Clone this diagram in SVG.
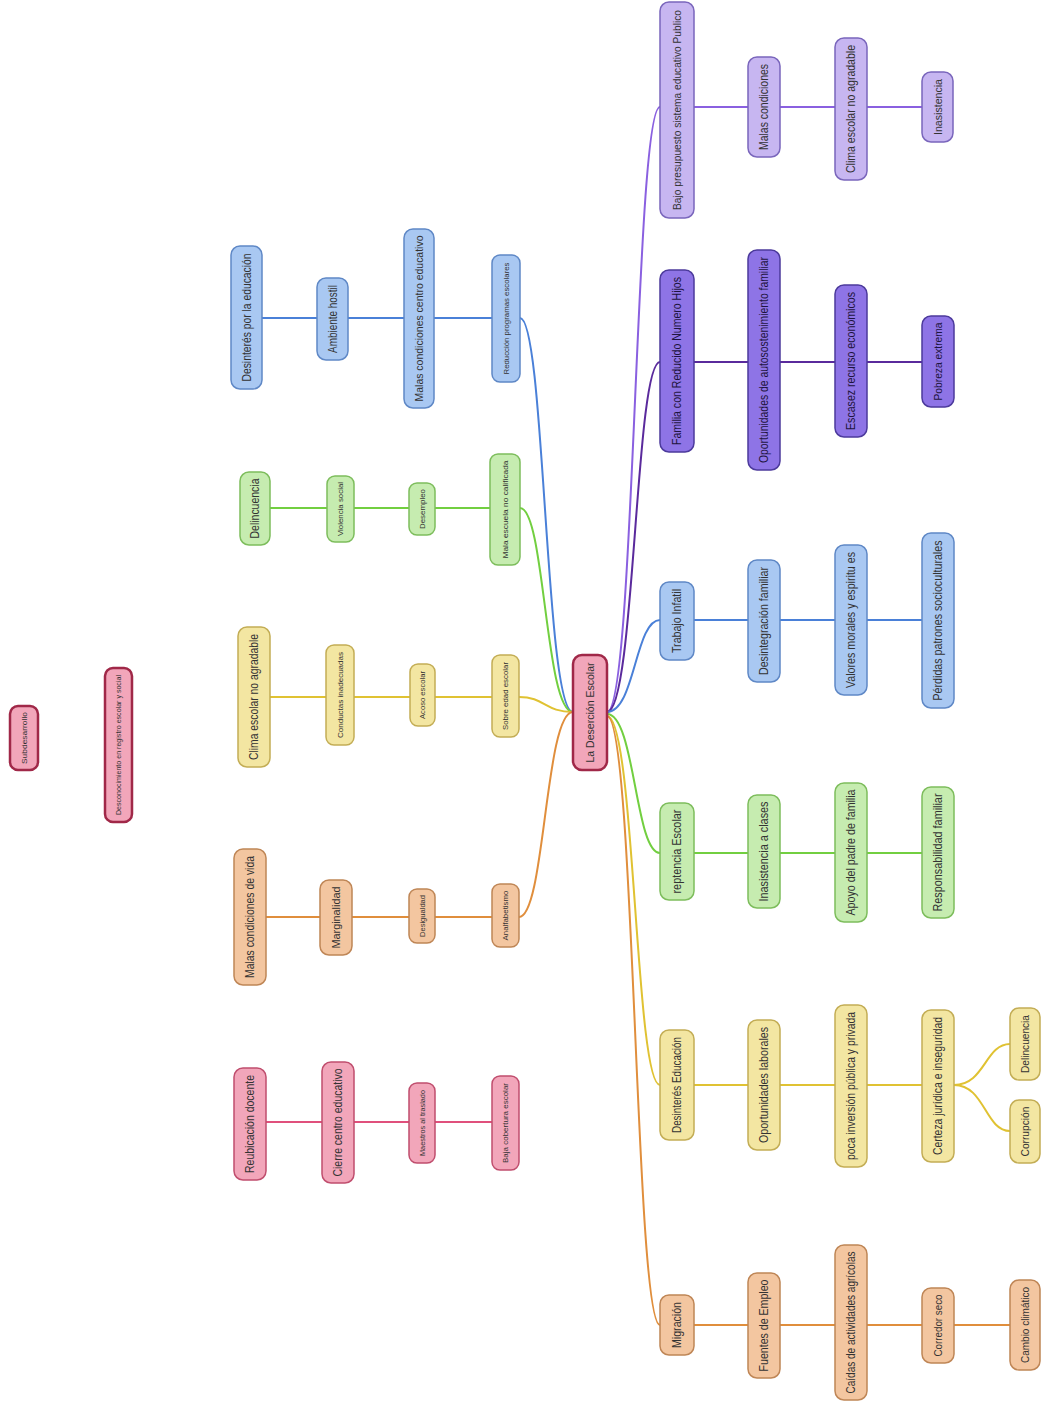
<svg xmlns="http://www.w3.org/2000/svg" width="1045" height="1403" viewBox="0 0 1045 1403">
<style>
text{font-family:"Liberation Sans",Arial,sans-serif;fill:#333;text-anchor:middle;dominant-baseline:central}
.s{font-size:7px}.m{font-size:11px}.l{font-size:12px}
rect{stroke-width:1.5}
.b rect{fill:#a9c8f2;stroke:#5f88c6}
.g rect{fill:#c6ecb0;stroke:#7dbd5c}
.y rect{fill:#f3e6a2;stroke:#c3ad55}
.o rect{fill:#f3c6a0;stroke:#bf8656}
.p rect{fill:#f2a6ba;stroke:#c04e6e}
.pk rect{fill:#f2a6ba;stroke:#a02848;stroke-width:2.5}
.pl rect{fill:#c7b6f1;stroke:#7a66bc}
.pd rect{fill:#8e74e6;stroke:#4c3a9c}
.pd text{fill:#1e1440}
#connectors path{fill:none;stroke-width:2}
.cb{stroke:#4a80d8}.cg{stroke:#72cf40}.cy{stroke:#e0c232}.co{stroke:#e08e3c}.cp{stroke:#e0507c}.cpl{stroke:#8a60e0}.cpd{stroke:#5a2a9c}
</style>
<rect width="1045" height="1403" fill="#ffffff"/>
<g id="connectors">
<path class="cb" d="M262,318H492"/>
<path class="cg" d="M270,508H490"/>
<path class="cy" d="M270,697H492"/>
<path class="co" d="M266,917H492"/>
<path class="cp" d="M266,1122H492"/>
<path class="cb" d="M573,712C545,712 545,318 520,318"/>
<path class="cg" d="M573,712C545,712 545,508 520,508"/>
<path class="cy" d="M573,712C545,712 545,697 519,697"/>
<path class="co" d="M573,712C545,712 545,917 519,917"/>
<path class="cpl" d="M607,712C635,712 635,107 660,107"/>
<path class="cpd" d="M607,712C635,712 635,362 660,362"/>
<path class="cb" d="M607,712C635,712 635,620 660,620"/>
<path class="cg" d="M607,714C635,714 635,853 660,853"/>
<path class="cy" d="M607,716C635,716 635,1085 660,1085"/>
<path class="co" d="M607,716C635,716 635,1325 660,1325"/>
<path class="cpl" d="M694,107H922"/>
<path class="cpd" d="M694,362H922"/>
<path class="cb" d="M694,620H922"/>
<path class="cg" d="M694,853H922"/>
<path class="cy" d="M694,1085H922"/>
<path class="co" d="M694,1325H1010"/>
<path class="cy" d="M954,1085C985,1085 985,1044 1010,1044"/>
<path class="cy" d="M954,1085C985,1085 985,1131 1010,1131"/>
</g>
<g id="center" class="pk"><rect x="573" y="655" width="34" height="115" rx="9"/><text class="m" transform="translate(590,712.5) rotate(-90)" textLength="100" lengthAdjust="spacingAndGlyphs">La Deserción Escolar</text></g>
<g id="subdesarrollo" class="pk"><rect x="10" y="706" width="28" height="64" rx="8"/><text class="s" transform="translate(24,738) rotate(-90)" textLength="52" lengthAdjust="spacingAndGlyphs">Subdesarrollo</text></g>
<g id="desconocimiento" class="pk"><rect x="105" y="668" width="27" height="154" rx="8"/><text class="s" transform="translate(118.5,745) rotate(-90)" textLength="140" lengthAdjust="spacingAndGlyphs">Desconocimiento en registro escolar y social</text></g>
<g id="l1a" class="b"><rect x="231" y="246" width="31" height="143" rx="9"/><text class="l" transform="translate(246.5,317.5) rotate(-90)" textLength="128" lengthAdjust="spacingAndGlyphs">Desinterés por la educación</text></g>
<g id="l1b" class="b"><rect x="317" y="278" width="31" height="82" rx="9"/><text class="l" transform="translate(332.5,319) rotate(-90)" textLength="68" lengthAdjust="spacingAndGlyphs">Ambiente hostil</text></g>
<g id="l1c" class="b"><rect x="404" y="229" width="30" height="179" rx="9"/><text class="m" transform="translate(419,318.5) rotate(-90)" textLength="166" lengthAdjust="spacingAndGlyphs">Malas condiciones centro educativo</text></g>
<g id="l1d" class="b"><rect x="492" y="255" width="28" height="127" rx="8"/><text class="s" transform="translate(506,318.5) rotate(-90)" textLength="112" lengthAdjust="spacingAndGlyphs">Reducción programas escolares</text></g>
<g id="l2a" class="g"><rect x="240" y="472" width="30" height="73" rx="9"/><text class="l" transform="translate(255,508.5) rotate(-90)" textLength="60" lengthAdjust="spacingAndGlyphs">Delincuencia</text></g>
<g id="l2b" class="g"><rect x="327" y="476" width="27" height="66" rx="8"/><text class="s" transform="translate(340.5,509) rotate(-90)" textLength="54" lengthAdjust="spacingAndGlyphs">Violencia social</text></g>
<g id="l2c" class="g"><rect x="409" y="483" width="26" height="52" rx="8"/><text class="s" transform="translate(422,509) rotate(-90)" textLength="40" lengthAdjust="spacingAndGlyphs">Desempleo</text></g>
<g id="l2d" class="g"><rect x="490" y="454" width="30" height="111" rx="8"/><text class="s" transform="translate(505,509.5) rotate(-90)" textLength="98" lengthAdjust="spacingAndGlyphs">Mala escuela no calificada</text></g>
<g id="l3a" class="y"><rect x="238" y="627" width="32" height="140" rx="9"/><text class="l" transform="translate(254,697) rotate(-90)" textLength="126" lengthAdjust="spacingAndGlyphs">Clima escolar no agradable</text></g>
<g id="l3b" class="y"><rect x="326" y="645" width="28" height="100" rx="8"/><text class="s" transform="translate(340,695) rotate(-90)" textLength="86" lengthAdjust="spacingAndGlyphs">Conductas inadecuadas</text></g>
<g id="l3c" class="y"><rect x="410" y="664" width="25" height="62" rx="8"/><text class="s" transform="translate(422.5,695) rotate(-90)" textLength="48" lengthAdjust="spacingAndGlyphs">Acoso escolar</text></g>
<g id="l3d" class="y"><rect x="492" y="655" width="27" height="82" rx="8"/><text class="s" transform="translate(505.5,696) rotate(-90)" textLength="68" lengthAdjust="spacingAndGlyphs">Sobre edad escolar</text></g>
<g id="l4a" class="o"><rect x="234" y="849" width="32" height="136" rx="9"/><text class="l" transform="translate(250,917) rotate(-90)" textLength="122" lengthAdjust="spacingAndGlyphs">Malas condiciones de vida</text></g>
<g id="l4b" class="o"><rect x="320" y="880" width="32" height="75" rx="9"/><text class="m" transform="translate(336,917.5) rotate(-90)" textLength="62" lengthAdjust="spacingAndGlyphs">Marginalidad</text></g>
<g id="l4c" class="o"><rect x="409" y="889" width="26" height="54" rx="8"/><text class="s" transform="translate(422,916) rotate(-90)" textLength="42" lengthAdjust="spacingAndGlyphs">Desigualdad</text></g>
<g id="l4d" class="o"><rect x="492" y="884" width="27" height="63" rx="8"/><text class="s" transform="translate(505.5,915.5) rotate(-90)" textLength="50" lengthAdjust="spacingAndGlyphs">Analfabetismo</text></g>
<g id="l5a" class="p"><rect x="234" y="1068" width="32" height="112" rx="9"/><text class="l" transform="translate(250,1124) rotate(-90)" textLength="98" lengthAdjust="spacingAndGlyphs">Reubicación docente</text></g>
<g id="l5b" class="p"><rect x="322" y="1062" width="32" height="121" rx="9"/><text class="l" transform="translate(338,1122.5) rotate(-90)" textLength="108" lengthAdjust="spacingAndGlyphs">Cierre centro educativo</text></g>
<g id="l5c" class="p"><rect x="409" y="1083" width="26" height="80" rx="8"/><text class="s" transform="translate(422,1123) rotate(-90)" textLength="66" lengthAdjust="spacingAndGlyphs">Maestros al traslado</text></g>
<g id="l5d" class="p"><rect x="492" y="1076" width="27" height="94" rx="8"/><text class="s" transform="translate(505.5,1123) rotate(-90)" textLength="80" lengthAdjust="spacingAndGlyphs">Baja cobertura escolar</text></g>
<g id="r1a" class="pl"><rect x="660" y="2" width="34" height="216" rx="9"/><text style="font-size:10px" transform="translate(677,110) rotate(-90)" textLength="200" lengthAdjust="spacingAndGlyphs">Bajo presupuesto sistema educativo Publico</text></g>
<g id="r1b" class="pl"><rect x="748" y="57" width="32" height="100" rx="9"/><text class="l" transform="translate(764,107) rotate(-90)" textLength="86" lengthAdjust="spacingAndGlyphs">Malas condiciones</text></g>
<g id="r1c" class="pl"><rect x="835" y="38" width="32" height="142" rx="9"/><text class="l" transform="translate(851,109) rotate(-90)" textLength="128" lengthAdjust="spacingAndGlyphs">Clima escolar no agradable</text></g>
<g id="r1d" class="pl"><rect x="922" y="72" width="31" height="70" rx="9"/><text class="m" transform="translate(937.5,107) rotate(-90)" textLength="56" lengthAdjust="spacingAndGlyphs">Inasistencia</text></g>
<g id="r2a" class="pd"><rect x="660" y="270" width="34" height="182" rx="9"/><text class="l" transform="translate(677,361) rotate(-90)" textLength="168" lengthAdjust="spacingAndGlyphs">Familia con Reducido Numero Hijos</text></g>
<g id="r2b" class="pd"><rect x="748" y="250" width="32" height="220" rx="9"/><text class="l" transform="translate(764,360) rotate(-90)" textLength="206" lengthAdjust="spacingAndGlyphs">Oportunidades de autosostenimiento familiar</text></g>
<g id="r2c" class="pd"><rect x="835" y="285" width="32" height="152" rx="9"/><text class="l" transform="translate(851,361) rotate(-90)" textLength="138" lengthAdjust="spacingAndGlyphs">Escasez recurso económicos</text></g>
<g id="r2d" class="pd"><rect x="922" y="316" width="32" height="91" rx="9"/><text class="m" transform="translate(938,361.5) rotate(-90)" textLength="78" lengthAdjust="spacingAndGlyphs">Pobreza extrema</text></g>
<g id="r3a" class="b"><rect x="660" y="582" width="34" height="78" rx="9"/><text class="l" transform="translate(677,621) rotate(-90)" textLength="64" lengthAdjust="spacingAndGlyphs">Trabajo Infatil</text></g>
<g id="r3b" class="b"><rect x="748" y="560" width="32" height="122" rx="9"/><text class="l" transform="translate(764,621) rotate(-90)" textLength="108" lengthAdjust="spacingAndGlyphs">Desintegración familiar</text></g>
<g id="r3c" class="b"><rect x="835" y="545" width="32" height="150" rx="9"/><text class="l" transform="translate(851,620) rotate(-90)" textLength="136" lengthAdjust="spacingAndGlyphs">Valores morales y espiritu es</text></g>
<g id="r3d" class="b"><rect x="922" y="533" width="32" height="175" rx="9"/><text class="l" transform="translate(938,620.5) rotate(-90)" textLength="160" lengthAdjust="spacingAndGlyphs">Pérdidas patrones socioculturales</text></g>
<g id="r4a" class="g"><rect x="660" y="803" width="34" height="97" rx="9"/><text class="l" transform="translate(677,851.5) rotate(-90)" textLength="84" lengthAdjust="spacingAndGlyphs">reptencia Escolar</text></g>
<g id="r4b" class="g"><rect x="748" y="795" width="32" height="113" rx="9"/><text class="l" transform="translate(764,851.5) rotate(-90)" textLength="100" lengthAdjust="spacingAndGlyphs">Inasistencia a clases</text></g>
<g id="r4c" class="g"><rect x="835" y="783" width="32" height="139" rx="9"/><text class="l" transform="translate(851,852.5) rotate(-90)" textLength="126" lengthAdjust="spacingAndGlyphs">Apoyo del padre de familia</text></g>
<g id="r4d" class="g"><rect x="922" y="787" width="32" height="131" rx="9"/><text class="l" transform="translate(938,852.5) rotate(-90)" textLength="118" lengthAdjust="spacingAndGlyphs">Responsabilidad familiar</text></g>
<g id="r5a" class="y"><rect x="660" y="1030" width="34" height="110" rx="9"/><text class="l" transform="translate(677,1085) rotate(-90)" textLength="96" lengthAdjust="spacingAndGlyphs">Desinterés Educación</text></g>
<g id="r5b" class="y"><rect x="748" y="1020" width="32" height="130" rx="9"/><text class="l" transform="translate(764,1085) rotate(-90)" textLength="116" lengthAdjust="spacingAndGlyphs">Oportunidades laborales</text></g>
<g id="r5c" class="y"><rect x="835" y="1005" width="32" height="162" rx="9"/><text class="l" transform="translate(851,1086) rotate(-90)" textLength="148" lengthAdjust="spacingAndGlyphs">poca inversión pública y privada</text></g>
<g id="r5d" class="y"><rect x="922" y="1010" width="32" height="152" rx="9"/><text class="l" transform="translate(938,1086) rotate(-90)" textLength="138" lengthAdjust="spacingAndGlyphs">Certeza jurídica e inseguridad</text></g>
<g id="r5e" class="y"><rect x="1010" y="1008" width="30" height="72" rx="9"/><text class="m" transform="translate(1025,1044) rotate(-90)" textLength="58" lengthAdjust="spacingAndGlyphs">Delincuencia</text></g>
<g id="r5f" class="y"><rect x="1010" y="1100" width="30" height="63" rx="9"/><text class="m" transform="translate(1025,1131.5) rotate(-90)" textLength="50" lengthAdjust="spacingAndGlyphs">Corrupción</text></g>
<g id="r6a" class="o"><rect x="660" y="1295" width="34" height="60" rx="9"/><text class="l" transform="translate(677,1325) rotate(-90)" textLength="46" lengthAdjust="spacingAndGlyphs">Migración</text></g>
<g id="r6b" class="o"><rect x="748" y="1273" width="32" height="105" rx="9"/><text class="l" transform="translate(764,1325.5) rotate(-90)" textLength="92" lengthAdjust="spacingAndGlyphs">Fuentes de Empleo</text></g>
<g id="r6c" class="o"><rect x="835" y="1245" width="32" height="155" rx="9"/><text class="l" transform="translate(851,1322.5) rotate(-90)" textLength="142" lengthAdjust="spacingAndGlyphs">Caídas de actividades agrícolas</text></g>
<g id="r6d" class="o"><rect x="922" y="1288" width="32" height="75" rx="9"/><text class="m" transform="translate(938,1325.5) rotate(-90)" textLength="62" lengthAdjust="spacingAndGlyphs">Corredor seco</text></g>
<g id="r6e" class="o"><rect x="1010" y="1280" width="30" height="90" rx="9"/><text class="m" transform="translate(1025,1325) rotate(-90)" textLength="76" lengthAdjust="spacingAndGlyphs">Cambio climático</text></g>
</svg>
